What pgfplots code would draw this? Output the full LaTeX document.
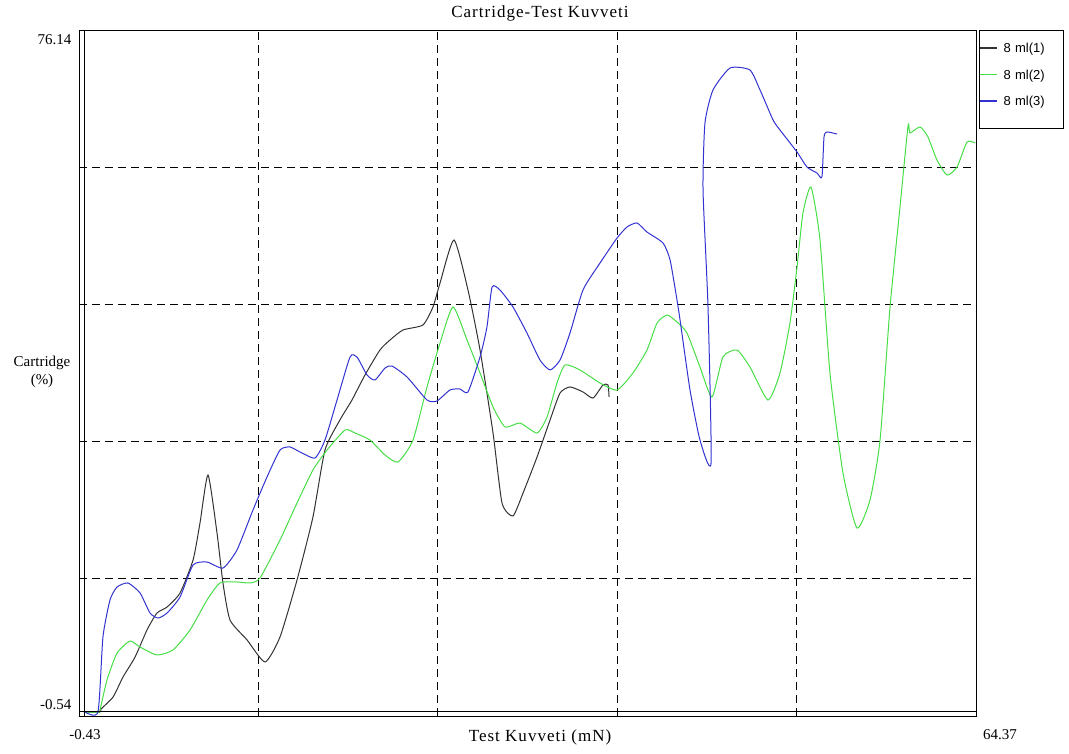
\documentclass[border=0pt]{standalone}
\usepackage{fontspec}
\setmainfont{Liberation Serif}
\newfontfamily\legfont{Liberation Sans}
\newfontfamily\wideserif[LetterSpace=6]{Liberation Serif}
\usepackage{pgfplots}
\pgfplotsset{compat=1.18}
\definecolor{cblack}{RGB}{50,50,50}
\definecolor{cgreen}{RGB}{70,222,70}
\definecolor{cblue}{RGB}{50,50,210}
\begin{document}
\begin{tikzpicture}
\path[use as bounding box] (-79pt,-37pt) rectangle (990pt,716pt);
\begin{axis}[
  at={(0pt,0pt)}, anchor=south west,
  scale only axis, width=897pt, height=686pt,
  xmin=-0.43, xmax=64.37, ymin=-0.54, ymax=76.14,
  xtick={12.53,25.49,38.45,51.41},
  ytick={14.80,30.13,45.47,60.80},
  xticklabels={}, yticklabels={},
  major tick length=0pt,
  grid=major,
  grid style={black, line width=0.8pt, dash pattern=on 8pt off 5pt},
  axis line style={black, line width=0.9pt},
  legend style={at={(axis description cs:1,1)}, anchor=north west, xshift=3pt,
    font=\legfont\fontsize{13}{15}\selectfont, draw=none, fill=none,
    inner xsep=0pt, inner ysep=11pt, row sep=11.5pt,
    nodes={inner xsep=6pt, text width=50pt}},
  legend cell align=left,
  legend image code/.code={\draw[#1, line width=1.4pt] (0pt,0.5pt) -- (17pt,0.5pt);},
  every axis plot/.append style={line width=1pt, smooth, tension=0.35},
]
\addplot[cblack] coordinates {
(-0.07,-0.09) (1.09,-0.09) (1.16,0.24) (2.03,1.58) (2.75,3.82) (3.62,6.05) (4.48,9.07)
(5.20,10.97) (5.93,11.64) (6.87,13.21) (7.81,16.90) (8.31,21.03) (8.89,26.40) (9.54,19.92)
(9.97,14.33) (10.48,10.19) (11.71,7.96) (13.01,5.50) (14.09,8.29) (15.32,14.66) (16.47,21.70)
(17.34,29.19) (18.42,32.55) (19.29,34.78) (20.23,37.58) (21.31,40.37) (22.04,41.49)
(22.98,42.61) (24.42,43.17) (25.14,45.18) (25.65,47.86) (26.66,52.67) (27.67,47.08)
(28.54,40.37) (29.48,31.09) (30.13,23.27) (30.92,21.82) (31.65,24.39) (32.66,28.41)
(33.60,32.55) (34.32,35.56) (35.04,36.24) (35.98,35.68) (36.70,35.00) (37.42,36.46)
(37.79,36.46) (37.86,35.12)
};
\addlegendentry{8 ml(1)}
\addplot[cgreen] coordinates {
(-0.07,-0.09) (1.00,-0.09) (1.09,0.13) (1.59,3.48) (2.32,6.50) (3.25,7.84) (3.98,7.17)
(5.20,6.28) (6.36,6.84) (7.59,9.07) (8.82,12.43) (9.76,14.33) (10.98,14.44) (11.92,14.33)
(12.65,14.89) (14.09,19.13) (15.32,23.27) (16.47,26.96) (17.49,29.19) (18.79,31.43)
(19.51,31.09) (20.59,30.31) (21.68,28.63) (22.62,27.85) (23.70,30.31) (24.71,36.24)
(25.65,41.15) (26.59,45.18) (27.60,41.49) (28.54,37.80) (29.48,34.00) (30.35,31.76)
(31.43,32.21) (32.66,31.09) (33.38,32.88) (34.10,36.68) (34.68,38.70) (35.76,38.14)
(37.21,36.68) (38.44,35.90) (39.59,37.80) (40.60,40.37) (41.33,43.39) (42.05,44.28)
(42.77,43.50) (43.49,42.27) (44.43,38.47) (45.30,35.12) (46.09,39.59) (47.10,40.37)
(48.04,38.47) (49.34,34.78) (50.21,37.80) (50.93,43.39) (51.44,49.65) (51.87,55.68)
(52.45,58.59) (53.10,52.67) (53.82,37.80) (54.76,26.62) (55.77,20.47) (56.71,23.60)
(57.44,30.31) (58.16,45.18) (58.88,56.36) (59.46,65.41) (59.60,64.63) (60.33,65.30)
(60.90,64.18) (61.55,61.61) (62.28,59.93) (63.00,60.82) (63.72,63.62) (64.30,63.51)
};
\addlegendentry{8 ml(2)}
\addplot[cblue] coordinates {
(0.00,-0.09) (0.94,-0.09) (1.30,8.29) (1.81,12.43) (2.32,13.88) (3.11,14.33) (3.98,13.21)
(4.70,10.97) (5.28,10.41) (5.93,10.97) (6.87,12.76) (7.81,16.34) (8.82,16.67) (9.97,16.00)
(10.98,18.01) (12.14,22.49) (13.15,26.17) (14.09,29.19) (14.81,29.53) (15.54,28.97)
(16.62,28.30) (17.34,30.31) (18.21,34.78) (19.15,39.59) (19.65,39.59) (20.38,37.58)
(20.95,37.02) (21.68,38.36) (22.18,38.58) (23.27,37.35) (24.71,34.78) (25.43,34.67)
(26.37,35.90) (27.09,36.01) (27.67,35.68) (28.54,39.59) (29.04,42.94) (29.41,47.41)
(29.98,47.08) (30.92,45.18) (31.93,42.27) (32.87,39.25) (33.60,38.14) (34.32,39.25)
(35.04,42.27) (35.98,47.08) (37.21,50.10) (38.44,52.89) (39.16,54.12) (39.88,54.57)
(40.60,53.56) (41.76,52.33) (42.27,50.43) (42.77,45.96) (42.99,43.73) (43.71,35.90)
(44.43,30.31) (45.23,27.74) (45.01,45.18) (44.65,58.26) (44.79,65.74) (45.37,69.43)
(46.60,71.89) (48.04,71.67) (48.77,69.43) (49.71,66.08) (50.21,64.96) (51.44,62.50)
(52.16,60.82) (52.88,60.16) (53.24,59.71) (53.39,64.18) (53.61,64.74) (54.33,64.51)
};
\addlegendentry{8 ml(3)}
\end{axis}
\draw[black, line width=0.9pt] (5pt,0pt) -- (5pt,686pt);
\draw[black, line width=0.9pt] (0pt,5pt) -- (897pt,5pt);
\draw[black, line width=0.8pt] (900pt,588pt) rectangle (984pt,686pt);
\node[font=\wideserif\fontsize{17}{20}\selectfont] at (461pt,703pt) {Cartridge-Test Kuvveti};
\node[font=\wideserif\fontsize{17}{20}\selectfont] at (461pt,-21pt) {Test Kuvveti (mN)};
\node[font=\fontsize{15}{18}\selectfont, align=center] at (-37pt,344pt) {Cartridge\\(\%)};
\node[font=\fontsize{15}{18}\selectfont, anchor=east] at (-4pt,676pt) {76.14};
\node[font=\fontsize{15}{18}\selectfont, anchor=east] at (-4pt,11pt) {-0.54};
\node[font=\fontsize{15}{18}\selectfont] at (6pt,-19pt) {-0.43};
\node[font=\fontsize{15}{18}\selectfont] at (921pt,-19pt) {64.37};
\end{tikzpicture}
\end{document}
